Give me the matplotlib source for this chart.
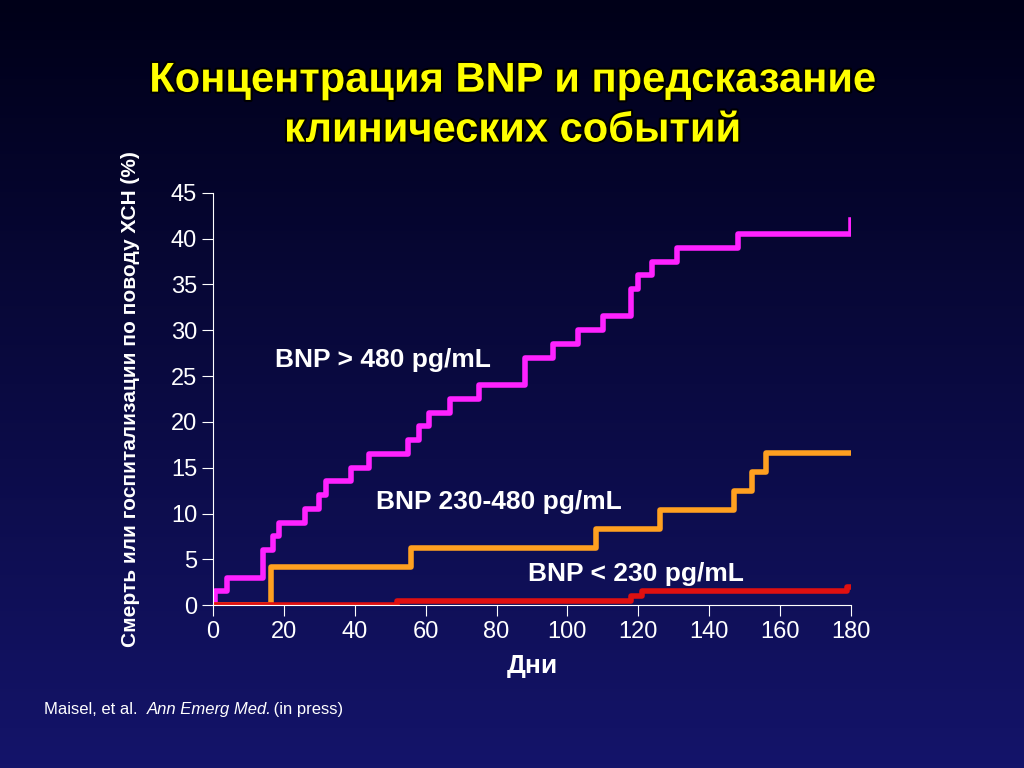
import matplotlib
matplotlib.use("Agg")
import matplotlib.pyplot as plt
import matplotlib.patheffects as pe
import numpy as np

hi_days = [0, 0.5, 4, 14, 17, 18.5, 26, 30, 32, 39, 44, 55, 58, 61, 67, 75, 88, 96, 103, 110, 118, 120, 124, 131, 148, 180, 180]
hi_vals = [0, 1.5, 3, 6, 7.5, 9, 10.5, 12, 13.5, 15, 16.5, 18, 19.5, 21, 22.5, 24, 27, 28.5, 30, 31.5, 34.5, 36, 37.5, 39, 40.5, 40.5, 42]
mid_days = [0, 16.5, 56, 108, 126, 147, 152, 156, 180]
mid_vals = [0, 4.2, 6.2, 8.3, 10.4, 12.5, 14.5, 16.6, 16.6]
lo_days = [0, 52, 118, 121, 179, 180]
lo_vals = [0, 0.5, 1.0, 1.5, 2.0, 2.0]
xticks = list(range(0, 181, 20))
yticks = list(range(0, 46, 5))

plt.rcParams["font.family"] = "Liberation Sans"
bg = "#0a0a40"
fig = plt.figure(figsize=(10.24, 7.68), dpi=100, facecolor=bg)
bga = fig.add_axes([0, 0, 1, 1], zorder=-10)
grad = np.linspace(0, 1, 256).reshape(-1, 1)
from matplotlib.colors import LinearSegmentedColormap
cm = LinearSegmentedColormap.from_list("g", ["#000018", "#14146a"])
bga.imshow(grad, aspect="auto", cmap=cm, extent=[0, 1, 0, 1], origin="upper")
bga.axis("off")

ax = fig.add_axes([0.208, 0.212, 0.623, 0.537])
ax.patch.set_alpha(0)
ax.step(hi_days, hi_vals, where="post", color="#ff22ff", lw=4)
ax.step(mid_days, mid_vals, where="post", color="#ffa020", lw=4)
ax.step(lo_days, lo_vals, where="post", color="#e01010", lw=4)
ax.set_xlim(0, 180); ax.set_ylim(0, 45)
ax.set_xticks(xticks); ax.set_yticks(yticks)
for s in ["top", "right"]:
    ax.spines[s].set_visible(False)
for s in ["left", "bottom"]:
    ax.spines[s].set_color("white")
ax.tick_params(colors="white", labelsize=17, length=8, direction="out")
ax.set_xlabel("Дни", color="white", fontsize=19, fontweight="bold", labelpad=8)
ax.set_ylabel("Смерть или госпитализации по поводу ХСН (%)", color="white", fontsize=15, fontweight="bold", labelpad=22)
ax.text(17.5, 26, "BNP > 480 pg/mL", color="white", fontsize=19, fontweight="bold")
ax.text(46, 10.5, "BNP 230-480 pg/mL", color="white", fontsize=19, fontweight="bold")
ax.text(89, 2.6, "BNP < 230 pg/mL", color="white", fontsize=19, fontweight="bold")
fx = [pe.withStroke(linewidth=3, foreground="black")]
fig.text(0.5, 0.895, "Концентрация BNP и предсказание", color="#ffff00", fontsize=30, fontweight="bold", ha="center", va="center", path_effects=fx)
fig.text(0.5, 0.83, "клинических событий", color="#ffff00", fontsize=30, fontweight="bold", ha="center", va="center", path_effects=fx)
fig.text(0.043, 0.07, "Maisel, et al. ", color="white", fontsize=12)
fig.text(0.143, 0.07, "Ann Emerg Med.", color="white", fontsize=12, style="italic")
fig.text(0.263, 0.07, " (in press)", color="white", fontsize=12)
fig.savefig("out.png", facecolor=bg)
